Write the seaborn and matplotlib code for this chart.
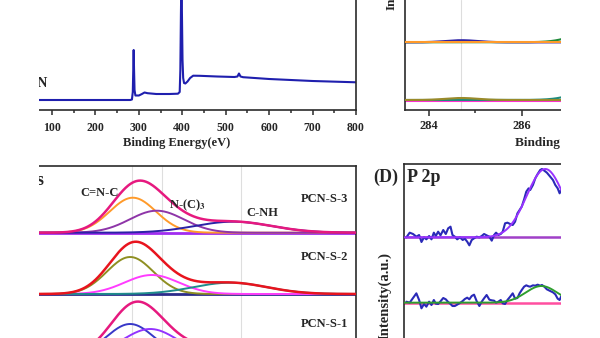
import numpy as np
import matplotlib
matplotlib.use("Agg")
import matplotlib.pyplot as plt
import seaborn as sns
from matplotlib.patches import Rectangle
from matplotlib.ticker import MultipleLocator

sns.set_theme(style="ticks")
plt.rcParams["font.family"] = ["Liberation Serif", "DejaVu Serif"]
plt.rcParams["font.weight"] = "bold"
plt.rcParams["axes.labelweight"] = "bold"
plt.rcParams["mathtext.fontset"] = "stix"

# ---------------- data ----------------
# (A) survey spectrum: binding energy (eV) and intensity (a.u.)
survey_be = [70, 280, 284, 286, 287.3, 288, 288.8, 290, 292, 300, 307, 313, 320, 340,
             370, 390, 394, 395.5, 396.8, 398, 399.2, 400.5, 402, 404, 407, 412, 418,
             425, 440, 480, 520, 527, 530.5, 534, 540, 600, 700, 800]
survey_int = [10, 10, 10.5, 18, 45, 60, 42, 20, 14.5, 14.5, 16, 17.5, 16.8, 16,
              16, 16.3, 18, 40, 95, 135, 95, 50, 32, 27, 26.5, 28.5, 32,
              34.3, 34.2, 33.5, 33, 33.5, 36.5, 33.5, 32.8, 31, 29, 27.7]

# (B) C 1s fits, low binding-energy side: [C-C, N-C=N] components
c1s_centers = [284.7, 288.2]
c1s_sigmas = [0.35, 0.6]
c1s_heights_upper = [2.0, 38.0]
c1s_heights_lower = [2.0, 32.0]
c1s_offsets = [67.7, 10.0]
c1s_refline = 284.7

# (C) N 1s deconvolution: C=N-C, N-(C)3, C-NH
n1s_samples = ["PCN-S-3", "PCN-S-2", "PCN-S-1"]
n1s_offsets = [187.3, 126.0, 64.7]
n1s_centers = [[398.60, 399.22, 401.20],
               [398.53, 399.09, 401.12],
               [398.53, 399.05, 401.20]]
n1s_heights = [[35.0, 22.0, 11.0],
               [37.0, 19.0, 11.3],
               [31.3, 26.3, 9.0]]
n1s_sigmas = [[0.60, 0.70, 1.00],
              [0.60, 0.70, 0.95],
              [0.60, 0.70, 1.00]]
n1s_reflines = [398.57, 399.35, 401.39]
n1s_peak_names = ["C=N-C", r"N-(C)$_\mathbf{3}$", "C-NH"]

# (D) P 2p raw spectra and fits
p2p_be = [127.12, 127.29, 127.46, 127.63, 127.77, 127.89, 128.02, 128.14, 128.28, 128.40,
          128.52, 128.62, 128.74, 128.86, 129.00, 129.13, 129.25, 129.37, 129.47, 129.59,
          129.71, 129.85, 129.99, 130.10, 130.22, 130.33, 130.45, 130.57, 130.70, 130.84,
          130.96, 131.08, 131.21, 131.35, 131.47, 131.59, 131.69, 131.81, 131.93, 132.03,
          132.15, 132.27, 132.41, 132.54, 132.66, 132.78, 132.89, 133.00, 133.12, 133.23,
          133.35, 133.43, 133.57, 133.69, 133.81, 133.94, 134.03, 134.15, 134.28, 134.45,
          134.59, 134.71, 134.83, 134.93, 135.00]
p2p_upper = [0, 14, 10, 2, 7, -14, 0, -6, 4, -6,
             14, 4, 17, 6, 22, 10, 27, 32, 7, 2,
             -6, 0, -8, -4, -13, -24, -8, -3, 2, 0,
             4, 10, 6, 2, -10, 7, 14, 7, 10, 17,
             42, 44, 40, 37, 47, 72, 82, 92, 114, 137,
             147, 142, 157, 177, 190, 202, 205, 200, 194, 182,
             172, 157, 147, 132, 142]
p2p_lower = [3, 0, 14, 28, 8, -17, -4, -12, 3, -7,
             8, -3, -4, 4, 14, 10, 2, -4, -10, -10,
             -6, -1, 5, 11, 15, 10, 20, 24, 5, -10,
             3, 13, 23, 9, 7, 6, 0, 3, 8, -2,
             -4, 8, 18, 28, 12, 14, 28, 38, 48, 52,
             49, 48, 52, 51, 54, 51, 53, 48, 40, 35,
             31, 25, 12, 8, 18]
p2p_offsets = [196.0, 0.0]
p2p_fit_center = [134.2, 134.0]
p2p_fit_sigma = [0.95, 0.8]
p2p_fit_height = [205.0, 50.0]

# ---------------- figure ----------------
W, H = 600, 338
fig = plt.figure(figsize=(6, 3.38), dpi=100)
fig.patch.set_facecolor("white")
SPINE = "#2b2b2b"


def px_axes(left, top, right, bottom):
    """Axes placed by pixel edges measured from the top-left corner."""
    return fig.add_axes([left / W, 1 - bottom / H, (right - left) / W, (bottom - top) / H])


def fig_text(px, py, s, **kw):
    return fig.text(px / W, 1 - py / H, s, fontweight="bold", **kw)


def gauss(x, c, s, h):
    return h * np.exp(-(x - c) ** 2 / (2 * s ** 2))


def line(ax, x, y, color, lw=1.4, z=2):
    sns.lineplot(x=x, y=y, ax=ax, color=color, linewidth=lw, estimator=None,
                 sort=False, zorder=z)


def style_spines(ax, visible):
    for side in ["top", "bottom", "left", "right"]:
        ax.spines[side].set_visible(side in visible)
        ax.spines[side].set_color(SPINE)
        ax.spines[side].set_linewidth(1.2)
    ax.set_yticks([])
    ax.set_ylabel("")
    ax.set_xlabel("")


# ---- (A) survey ----
axA = px_axes(39, 0, 356, 110)
line(axA, survey_be, survey_int, "#1f1fae", lw=1.5)
axA.set_xlim(70, 800)
axA.set_ylim(0, 110)
style_spines(axA, ["bottom", "right"])
axA.xaxis.set_major_locator(MultipleLocator(100))
axA.xaxis.set_minor_locator(MultipleLocator(50))
axA.tick_params(axis="x", which="major", direction="out", length=3.6, width=1.1,
                labelsize=8.5, pad=5, color=SPINE)
axA.tick_params(axis="x", which="minor", direction="out", length=1.8, width=1.1, color=SPINE)
axA.set_xlabel("Binding Energy(eV)", fontsize=9, fontweight="bold")
axA.xaxis.set_label_coords((177 - 39) / 317, (110 - 137) / 110)
fig_text(48, 87, "PCN", ha="right", va="baseline", fontsize=10)

# ---- (B) C 1s low-energy side ----
axB = px_axes(405, 0, 561, 110)
xB = np.linspace(283.3, 287.0, 300)
axB.axvline(c1s_refline, color="#dddddd", lw=0.8, zorder=1)
up_cc = c1s_offsets[0] + gauss(xB, c1s_centers[0], c1s_sigmas[0], c1s_heights_upper[0])
up_ncn = c1s_offsets[0] + gauss(xB, c1s_centers[1], c1s_sigmas[1], c1s_heights_upper[1])
lo_cc = c1s_offsets[1] + gauss(xB, c1s_centers[0], c1s_sigmas[0], c1s_heights_lower[0])
lo_ncn = c1s_offsets[1] + gauss(xB, c1s_centers[1], c1s_sigmas[1], c1s_heights_lower[1])
line(axB, xB, up_ncn, "#1f8a3a", lw=1.5)
line(axB, xB, up_cc, "#2a1fa6", lw=1.6)
line(axB, xB, np.full_like(xB, c1s_offsets[0]), "#ff9a2a", lw=1.5, z=3)
line(axB, xB, np.full_like(xB, c1s_offsets[1] - 0.6), "#ff2fd0", lw=1.5)
line(axB, xB, lo_ncn, "#1f8c7c", lw=1.5)
line(axB, xB, lo_cc, "#9a8a2a", lw=1.5, z=3)
axB.set_xlim(283.48, 286.85)
axB.set_ylim(0, 110)
style_spines(axB, ["bottom", "left"])
axB.xaxis.set_major_locator(MultipleLocator(2))
axB.xaxis.set_minor_locator(MultipleLocator(1))
axB.tick_params(axis="x", which="major", direction="out", length=4, width=1.1,
                labelsize=9, pad=3.4, color=SPINE)
axB.tick_params(axis="x", which="minor", direction="out", length=2, width=1.1, color=SPINE)
axB.set_xlabel("Binding Energy(eV)", fontsize=9.5, fontweight="bold", ha="left")
axB.xaxis.set_label_coords((515 - 405) / 156, (110 - 137) / 110)
axB.set_ylabel("Intensity(a.u.)", fontsize=9.5, fontweight="bold", ha="left", va="center")
axB.yaxis.set_label_coords((392 - 405) / 156, (110 - 10) / 110)

# ---- (C) N 1s ----
axC = px_axes(39, 166, 356, 420)
xC = np.linspace(396.0, 404.6, 500)
for xv in n1s_reflines:
    axC.axvline(xv, color="#dedede", lw=0.8, zorder=1)
comp_colors = [["#ff9a2a", "#8e35a8", "#2b22a6"],
               ["#8f8f22", "#ff3cff", "#1f8c8c"],
               ["#3838c8", "#9333ff", "#2e9e9e"]]
env_colors = ["#e6197f", "#e8141e", "#e6197f"]
base_colors = ["#a02cf0", "#2b2b8a", "#2b2b8a"]
label_y = [199.5, 257.5, 324]
for i, name in enumerate(n1s_samples):
    off = n1s_offsets[i]
    comps = [gauss(xC, c, s, h) for c, s, h in
             zip(n1s_centers[i], n1s_sigmas[i], n1s_heights[i])]
    line(axC, xC, np.full_like(xC, off), base_colors[i], lw=2.0)
    for comp, col in zip(comps, comp_colors[i]):
        line(axC, xC, off + comp, col, lw=1.4)
    line(axC, xC, off + np.sum(comps, axis=0), env_colors[i], lw=1.8, z=3)
    fig_text(324, label_y[i], name, ha="center", va="center", fontsize=9)
axC.set_xlim(396.17, 404.38)
axC.set_ylim(0, 254)
style_spines(axC, ["top", "right"])
axC.set_xticks([])
name_pos = [(100, 193), (187, 205), (262, 212.7)]
for nm, (px, py) in zip(n1s_peak_names, name_pos):
    fig_text(px, py, nm, ha="center", va="center", fontsize=9, zorder=0.5)
fig_text(44, 185, "(C) N 1s", ha="right", va="baseline", fontsize=13)

# ---- (D) P 2p ----
axD = px_axes(404, 164, 561, 400)
xD = np.linspace(127.0, 135.2, 300)
p2p_raw = [p2p_upper, p2p_lower]
p2p_colors = [("#a040c8", "#9933ff"), ("#ff4fa0", "#2e9e2e")]
for i in range(2):
    off = p2p_offsets[i]
    base_col, fit_col = p2p_colors[i]
    line(axD, xD, np.full_like(xD, off), base_col, lw=1.8)
    line(axD, p2p_be, np.array(p2p_raw[i]) + off, "#2a2ab8", lw=1.5)
    line(axD, xD, off + gauss(xD, p2p_fit_center[i], p2p_fit_sigma[i], p2p_fit_height[i]),
         fit_col, lw=1.4, z=3)
axD.set_xlim(127.0, 135.0)
axD.set_ylim(-292, 416)
style_spines(axD, ["top", "left"])
axD.set_xticks([])
axD.set_ylabel("Intensity(a.u.)", fontsize=10.5, fontweight="bold", ha="right", va="center")
axD.yaxis.set_label_coords((385 - 404) / 157, (400 - 252) / 236)
fig_text(373, 182, "(D)", ha="left", va="baseline", fontsize=13)
fig_text(407, 182, "P 2p", ha="left", va="baseline", fontsize=13)

# white margins around the panel block
fig.add_artist(Rectangle((0, 0), 39 / W, 1, transform=fig.transFigure,
                         facecolor="white", edgecolor="none", zorder=20))
fig.add_artist(Rectangle((561 / W, 0), 39 / W, 1, transform=fig.transFigure,
                         facecolor="white", edgecolor="none", zorder=20))

fig.savefig("out.png", dpi=100, facecolor="white")
